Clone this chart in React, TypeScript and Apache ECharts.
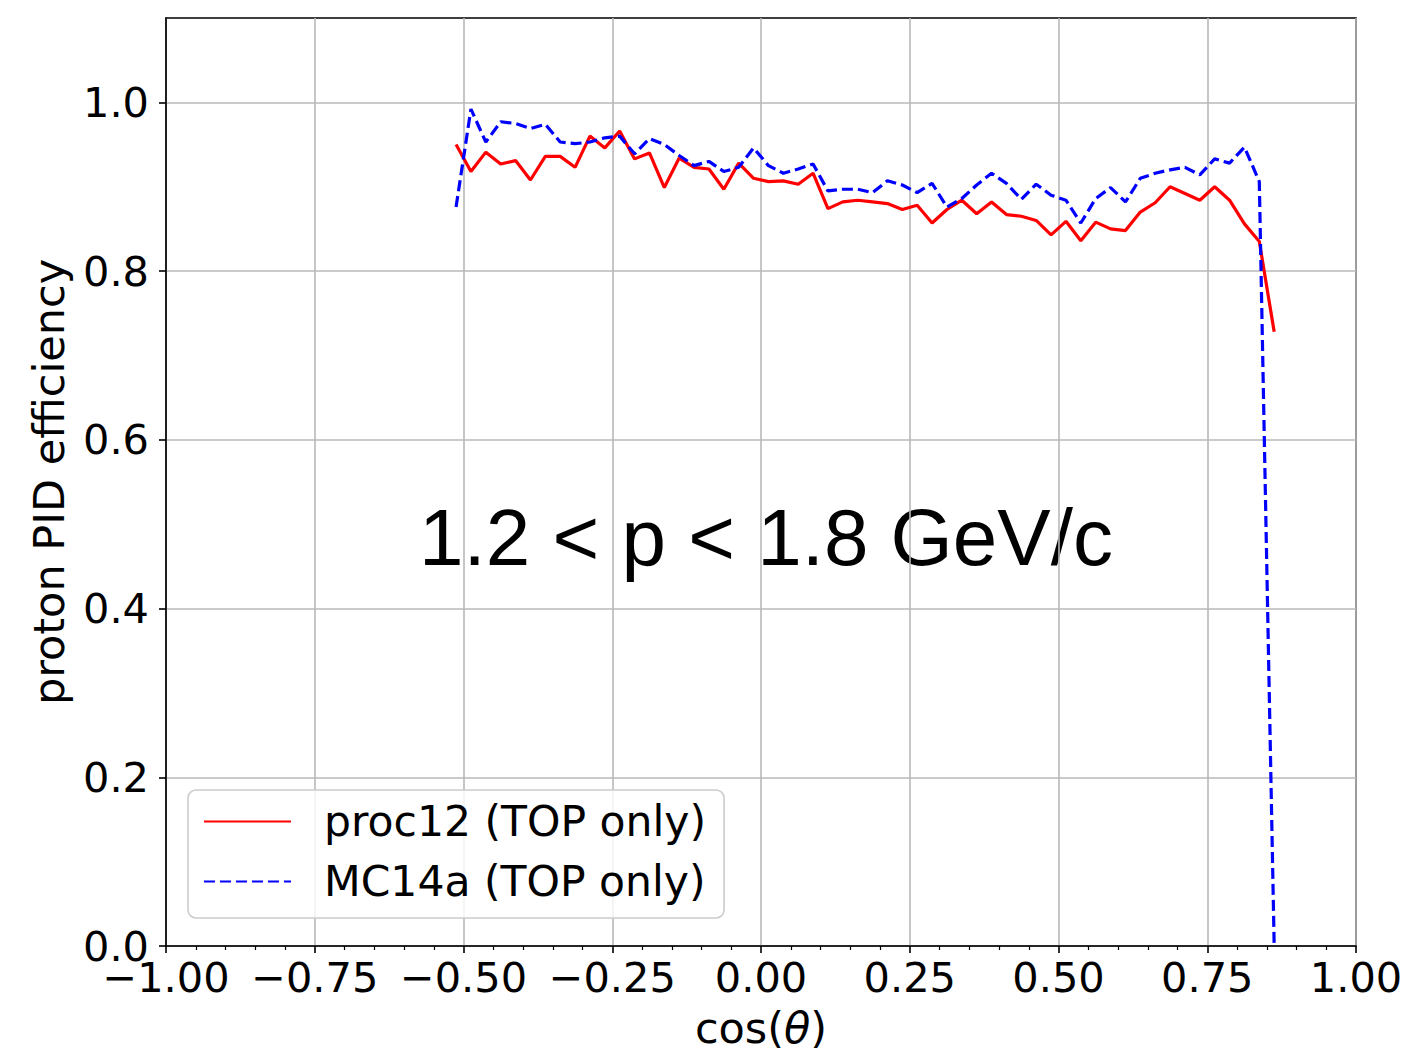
import React, { useEffect, useRef } from 'react';
import * as echarts from 'echarts';

// bin centres of cos(theta)
const cosTheta = [
  -0.5125, -0.4875, -0.4625, -0.4375, -0.4125, -0.3875, -0.3625, -0.3375, -0.3125, -0.2875,
  -0.2625, -0.2375, -0.2125, -0.1875, -0.1625, -0.1375, -0.1125, -0.0875, -0.0625, -0.0375,
  -0.0125, 0.0125, 0.0375, 0.0625, 0.0875, 0.1125, 0.1375, 0.1625, 0.1875, 0.2125,
  0.2375, 0.2625, 0.2875, 0.3125, 0.3375, 0.3625, 0.3875, 0.4125, 0.4375, 0.4625,
  0.4875, 0.5125, 0.5375, 0.5625, 0.5875, 0.6125, 0.6375, 0.6625, 0.6875, 0.7125,
  0.7375, 0.7625, 0.7875, 0.8125, 0.8375, 0.8625,
];

const proc12 = [
  0.950, 0.918, 0.941, 0.927, 0.931, 0.908, 0.936, 0.936, 0.923, 0.960,
  0.946, 0.966, 0.933, 0.940, 0.899, 0.934, 0.923, 0.921, 0.897, 0.928,
  0.910, 0.906, 0.907, 0.903, 0.916, 0.874, 0.882, 0.884, 0.882, 0.880,
  0.873, 0.878, 0.857, 0.873, 0.884, 0.868, 0.882, 0.867, 0.865, 0.860,
  0.843, 0.859, 0.836, 0.858, 0.850, 0.848, 0.870, 0.881, 0.900, 0.892,
  0.884, 0.900, 0.884, 0.856, 0.835, 0.728,
];

const mc14a = [
  0.876, 0.992, 0.953, 0.977, 0.975, 0.969, 0.974, 0.953, 0.951, 0.953,
  0.958, 0.960, 0.939, 0.957, 0.950, 0.937, 0.925, 0.930, 0.918, 0.923,
  0.946, 0.925, 0.916, 0.921, 0.927, 0.895, 0.897, 0.897, 0.893, 0.907,
  0.902, 0.893, 0.904, 0.876, 0.886, 0.902, 0.916, 0.904, 0.885, 0.903,
  0.890, 0.884, 0.857, 0.886, 0.899, 0.882, 0.910, 0.916, 0.920, 0.923,
  0.914, 0.933, 0.928, 0.947, 0.906, 0.0,
];

const seriesNames = ['proc12 (TOP only)', 'MC14a (TOP only)'];
const yTickValues = [0, 0.2, 0.4, 0.6, 0.8, 1.0];
const xAxisTitle = 'cos({i|θ})';
const yAxisTitle = 'proton PID efficiency';
const annotation = '1.2 < p < 1.8 GeV/c';

export default function App() {
  const ref = useRef<HTMLDivElement>(null);
  useEffect(() => {
    if (!ref.current) return;
    const chart = echarts.init(ref.current, null, { renderer: 'svg' });
    const font = 'DejaVu Sans';
    const axisColor = '#000000';
    const gridColor = '#b8b8b8';
    const tickFont = 41.5;
    const titleFont = 43;
    const legendFont = 42.5;
    chart.setOption({
      animation: false,
      backgroundColor: '#ffffff',
      grid: {
        left: 166,
        top: 18,
        width: 1190,
        height: 929,
        show: true,
        borderColor: axisColor,
        borderWidth: 1.6,
        backgroundColor: 'transparent',
      },
      xAxis: {
        type: 'value',
        min: -1,
        max: 1,
        interval: 0.25,
        name: xAxisTitle,
        nameLocation: 'middle',
        nameGap: 60,
        nameTextStyle: {
          fontFamily: font,
          fontSize: titleFont,
          color: axisColor,
          rich: { i: { fontFamily: font, fontStyle: 'italic', fontSize: titleFont, color: axisColor } },
        },
        axisLine: { show: true, onZero: false, lineStyle: { color: axisColor, width: 1.6 } },
        axisTick: { show: true, inside: false, length: 7, lineStyle: { color: axisColor, width: 1.6 } },
        minorTick: { show: true, splitNumber: 5, length: 4, lineStyle: { color: axisColor, width: 1.2 } },
        axisLabel: {
          fontFamily: font,
          fontSize: tickFont,
          color: axisColor,
          margin: 10,
          formatter: (v: number) => (v < 0 ? '\u2212' : '') + Math.abs(v).toFixed(2),
        },
        splitLine: { show: true, lineStyle: { color: gridColor, width: 1.6 } },
      },
      yAxis: {
        type: 'value',
        min: 0,
        max: 1.1,
        interval: 0.2,
        name: yAxisTitle,
        nameLocation: 'middle',
        nameGap: 96,
        nameTextStyle: { fontFamily: font, fontSize: titleFont, color: axisColor },
        axisLine: { show: true, onZero: false, lineStyle: { color: axisColor, width: 1.6 } },
        axisTick: {
          show: true,
          inside: false,
          length: 7,
          customValues: yTickValues,
          lineStyle: { color: axisColor, width: 1.6 },
        },
        axisLabel: {
          fontFamily: font,
          fontSize: tickFont,
          color: axisColor,
          margin: 17,
          customValues: yTickValues,
          formatter: (v: number) => v.toFixed(1),
        },
        splitLine: { show: true, lineStyle: { color: gridColor, width: 1.6 } },
      },
      legend: {
        orient: 'vertical',
        left: 188,
        top: 790,
        data: seriesNames,
        itemWidth: 87,
        itemHeight: 14,
        itemGap: 17,
        padding: [10, 18, 15, 15],
        backgroundColor: 'rgba(255,255,255,0.8)',
        borderColor: '#cccccc',
        borderWidth: 1.6,
        borderRadius: 8,
        itemStyle: { opacity: 0 },
        formatter: (n: string) => `{t|${n}}`,
        textStyle: {
          rich: {
            t: { fontFamily: font, fontSize: legendFont, color: axisColor, padding: [0, 0, 0, 28], lineHeight: 46 },
          },
        },
      },
      series: [
        {
          name: seriesNames[0],
          type: 'line',
          data: cosTheta.map((x, i) => [x, proc12[i]]),
          symbol: 'none',
          showSymbol: false,
          lineStyle: { color: '#ff0000', width: 3.2 },
          itemStyle: { color: '#ff0000' },
        },
        {
          name: seriesNames[1],
          type: 'line',
          data: cosTheta.map((x, i) => [x, mc14a[i]]),
          symbol: 'none',
          showSymbol: false,
          lineStyle: { color: '#0000ff', width: 3.2, type: [11, 5] },
          itemStyle: { color: '#0000ff' },
        },
      ],
      graphic: [
        {
          type: 'text',
          x: 766,
          y: 537,
          style: {
            text: annotation,
            fontFamily: 'Liberation Sans',
            fontSize: 80,
            fill: '#000000',
            align: 'center',
            verticalAlign: 'middle',
          },
        },
      ],
    });
    return () => chart.dispose();
  }, []);
  return (
    <div
      ref={ref}
      style={{ position: 'absolute', left: 0, top: 0, width: 1408, height: 1054 }}
    />
  );
}
